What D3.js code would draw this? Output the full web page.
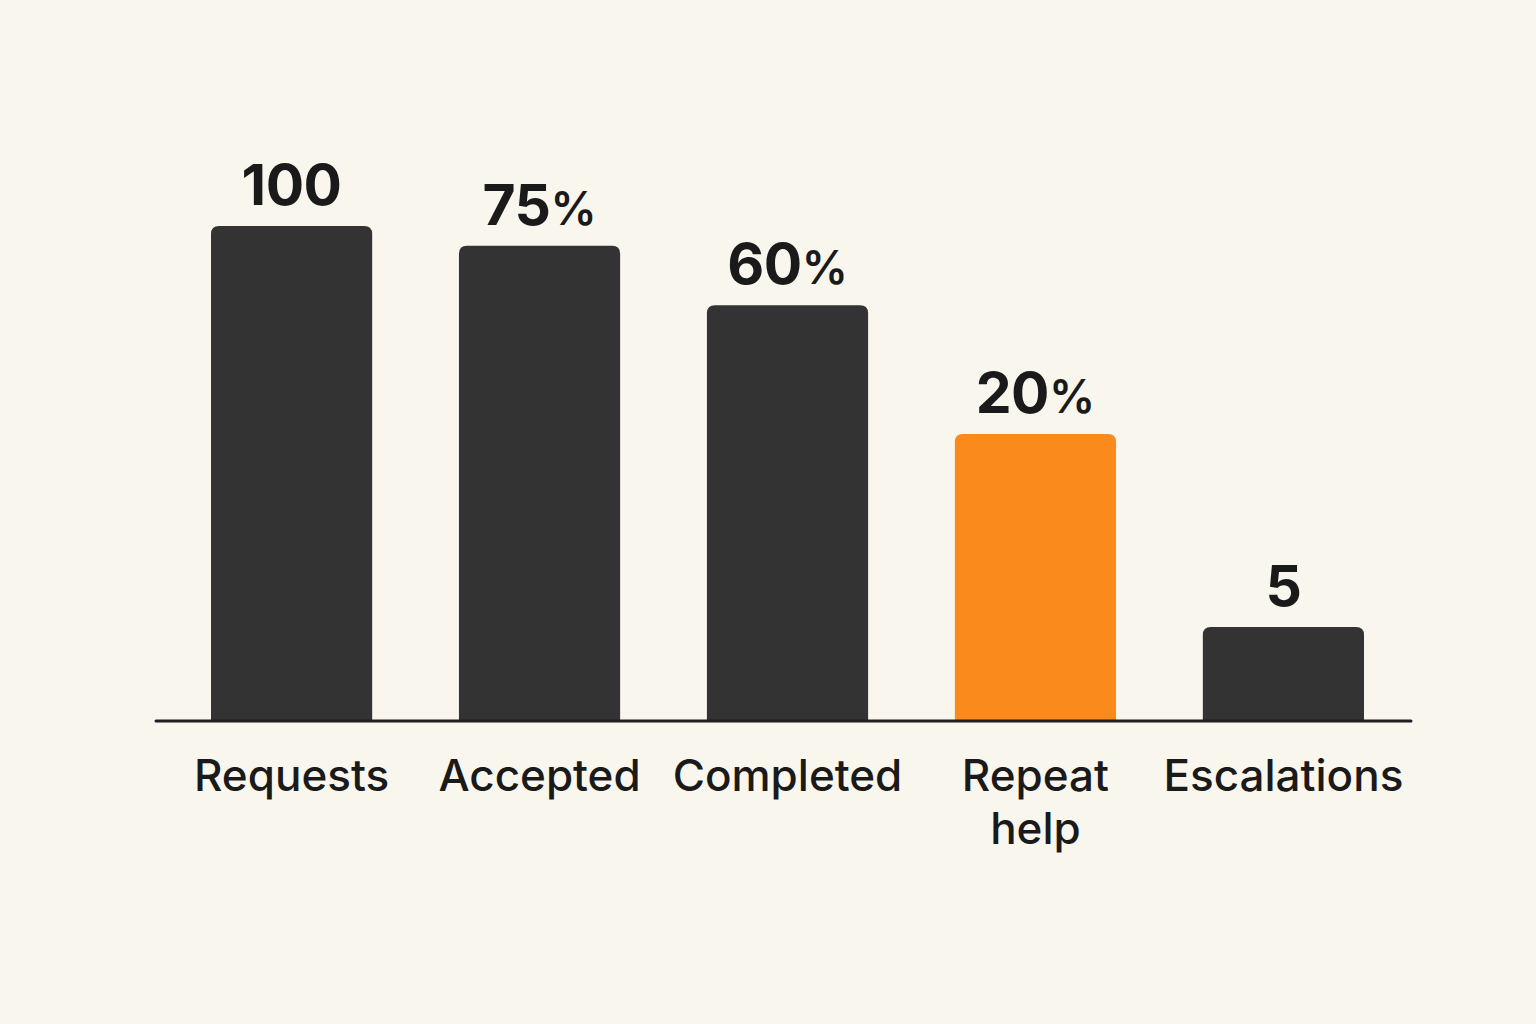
<!DOCTYPE html>
<html>
<head>
<meta charset="utf-8">
<script src="https://cdn.jsdelivr.net/npm/d3@7"></script>
<style>
  html, body { margin: 0; padding: 0; background: #f9f6ee; }
  svg { display: block; }
</style>
</head>
<body>
<script>
// Data
const categories = ["Requests", "Accepted", "Completed", "Repeat help", "Escalations"];
const barHeights = [100, 96, 84, 58, 19];           // bar heights relative to the tallest bar
const valueNumbers = ["100", "75", "60", "20", "5"];
const valueSuffix = ["", "%", "%", "%", ""];
const highlight = [false, false, false, true, false];

const W = 1536, H = 1024;
const svg = d3.select("body").append("svg").attr("width", W).attr("height", H);
svg.append("rect").attr("width", W).attr("height", H).attr("fill", "#f9f6ee");

const x = d3.scaleBand().domain(categories).range([211, 1364]).paddingInner(0.35).paddingOuter(0);
const y = d3.scaleLinear().domain([0, 100]).range([721, 226]);

const r = 8;
function topRounded(x0, y0, w, h) {
  return `M${x0},${y0 + h} V${y0 + r} Q${x0},${y0} ${x0 + r},${y0} H${x0 + w - r} Q${x0 + w},${y0} ${x0 + w},${y0 + r} V${y0 + h} Z`;
}

svg.selectAll("path.bar").data(categories).join("path")
  .attr("class", "bar")
  .attr("d", (d, i) => topRounded(x(d), y(barHeights[i]), x.bandwidth(), y(0) - y(barHeights[i])))
  .attr("fill", (d, i) => highlight[i] ? "#fb8a1c" : "#333333");

// baseline
svg.append("line")
  .attr("x1", 156).attr("x2", 1411)
  .attr("y1", y(0)).attr("y2", y(0))
  .attr("stroke", "#1f1f1f").attr("stroke-width", 3).attr("stroke-linecap", "round");

// value labels
const vl = svg.selectAll("text.val").data(categories).join("text")
  .attr("class", "val")
  .attr("x", d => x(d) + x.bandwidth() / 2)
  .attr("y", (d, i) => y(barHeights[i]) - 21)
  .attr("text-anchor", "middle")
  .attr("font-family", "Inter, 'Noto Sans', sans-serif")
  .attr("fill", "#1a1a1a");
vl.append("tspan").attr("font-size", 57).attr("font-weight", 700).attr("letter-spacing", -0.5)
  .text((d, i) => valueNumbers[i]);
vl.append("tspan").attr("font-size", 46).attr("font-weight", 600)
  .text((d, i) => valueSuffix[i]);

// category labels
const cl = svg.selectAll("text.cat").data(categories).join("text")
  .attr("class", "cat")
  .attr("x", d => x(d) + x.bandwidth() / 2)
  .attr("y", 791)
  .attr("text-anchor", "middle")
  .attr("font-family", "Inter, 'Noto Sans', sans-serif")
  .attr("font-size", 44)
  .attr("font-weight", 500)
  .attr("fill", "#1a1a1a");
cl.each(function(d) {
  const words = d.split(" ");
  const t = d3.select(this);
  const lines = d === "Repeat help" ? words : [d];
  lines.forEach((w, k) => {
    t.append("tspan").attr("x", x(d) + x.bandwidth() / 2).attr("dy", k === 0 ? 0 : 53).text(w);
  });
});
</script>
</body>
</html>
